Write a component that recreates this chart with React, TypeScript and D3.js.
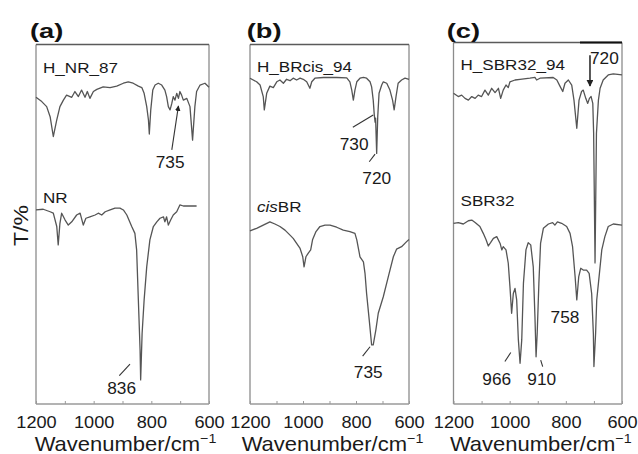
import React, { useEffect, useRef } from 'react';
import * as d3 from 'd3';

type Pt = [number, number];

// [wavenumber cm-1, transmittance %] (curves stacked, arbitrary offsets)
const hNR87: Pt[] = [
  [1200, 85.2], [1180, 84.0], [1163, 82.6], [1151, 79.8], [1140, 74.3], [1128, 78.9], [1117, 82.6],
  [1105, 84.4], [1094, 85.8], [1076, 85.2], [1065, 86.8], [1053, 85.4], [1042, 87.2], [1030, 85.2],
  [1022, 86.8], [1013, 84.9], [1001, 86.8], [989, 87.4], [967, 88.1], [943, 87.9], [920, 88.3],
  [897, 89.1], [880, 89.5], [863, 89.1], [845, 88.3], [833, 87.9], [825, 86.3], [816, 82.6],
  [810, 78.9], [807, 75.0], [802, 81.7], [795, 87.2], [787, 88.6], [776, 89.1], [764, 88.6],
  [753, 87.2], [747, 85.4], [741, 82.6], [735, 81.7], [729, 83.5], [724, 85.4], [718, 84.4],
  [712, 86.3], [706, 84.9], [701, 86.8], [695, 85.8], [689, 84.4], [677, 84.9], [666, 82.6],
  [657, 73.3], [649, 82.6], [643, 86.8], [631, 88.6], [614, 89.1], [600, 88.0],
];

const nr: Pt[] = [
  [1200, 53.9], [1175, 54.1], [1151, 53.4], [1140, 53.0], [1128, 49.3], [1123, 44.2], [1117, 50.2],
  [1111, 53.0], [1099, 51.1], [1088, 49.7], [1076, 50.6], [1059, 52.5], [1047, 53.0], [1036, 49.7],
  [1027, 51.6], [1013, 52.0], [995, 52.5], [984, 53.0], [972, 52.5], [960, 53.4], [943, 53.9],
  [926, 54.4], [909, 54.4], [897, 53.9], [885, 52.5], [868, 49.3], [857, 47.4], [851, 42.8],
  [845, 28.9], [839, 15.0], [837, 6.7], [832, 19.6], [825, 28.9], [816, 38.1], [805, 45.6],
  [793, 49.3], [781, 50.6], [770, 51.6], [758, 52.0], [753, 50.6], [747, 52.0], [741, 49.7],
  [733, 51.1], [724, 52.5], [712, 53.4], [701, 55.3], [689, 55.0], [677, 55.0], [643, 55.0],
];

const hBRcis94: Pt[] = [
  [1200, 90.5], [1175, 89.5], [1162, 88.6], [1150, 85.4], [1146, 81.7], [1137, 86.3], [1125, 88.3],
  [1112, 87.9], [1099, 89.5], [1087, 90.0], [1074, 89.1], [1062, 90.2], [1049, 89.8], [1037, 90.5],
  [1024, 90.0], [1011, 90.5], [999, 90.2], [986, 89.5], [974, 87.7], [967, 89.5], [955, 90.5],
  [923, 90.7], [873, 90.7], [835, 90.6], [823, 89.5], [816, 87.2], [810, 84.4], [804, 87.2],
  [797, 89.5], [785, 90.5], [772, 90.7], [760, 90.5], [747, 89.5], [741, 88.1], [735, 84.4],
  [731, 80.3], [728, 78.3], [726, 79.4], [722, 69.6], [718, 79.8], [713, 86.3], [703, 88.6],
  [697, 89.5], [684, 89.1], [672, 87.2], [662, 84.4], [656, 81.7], [649, 85.4], [641, 89.1],
  [628, 90.0], [615, 90.5], [600, 90.2],
];

const cisBR: Pt[] = [
  [1200, 48.1], [1175, 48.8], [1150, 49.7], [1125, 50.6], [1106, 50.0], [1087, 49.3], [1068, 48.3],
  [1049, 46.9], [1037, 46.0], [1024, 44.6], [1011, 43.2], [1001, 40.9], [996, 38.1], [989, 40.9],
  [980, 41.9], [971, 42.8], [964, 45.6], [951, 47.9], [936, 49.3], [917, 49.7], [898, 49.7],
  [873, 49.1], [848, 48.3], [823, 47.9], [804, 47.4], [797, 45.6], [785, 40.9], [772, 39.5],
  [766, 36.3], [760, 30.7], [750, 23.3], [741, 16.4], [735, 16.4], [725, 20.6], [716, 25.2],
  [697, 29.8], [678, 35.4], [659, 40.9], [647, 43.0], [628, 43.7], [609, 45.1], [600, 45.7],
];

const hSBR3294: Pt[] = [
  [1200, 86.3], [1183, 85.4], [1171, 85.8], [1159, 84.9], [1147, 84.4], [1135, 85.4], [1123, 84.9],
  [1112, 85.8], [1100, 85.4], [1088, 87.2], [1076, 85.8], [1064, 87.7], [1052, 86.5], [1040, 87.7],
  [1032, 84.9], [1023, 87.2], [1013, 88.6], [1005, 87.9], [999, 89.5], [981, 90.0], [963, 90.2],
  [928, 90.5], [910, 90.7], [904, 90.0], [892, 90.5], [845, 90.7], [832, 90.0], [821, 88.3],
  [811, 86.8], [803, 89.1], [791, 90.0], [779, 88.6], [771, 84.4], [761, 76.6], [753, 84.4],
  [744, 86.8], [738, 87.2], [729, 84.9], [722, 83.5], [716, 84.9], [710, 85.4], [704, 83.5],
  [701, 75.2], [696, 39.2], [691, 75.2], [684, 84.4], [678, 87.7], [667, 90.0], [649, 91.4],
  [631, 91.7], [600, 91.4],
];

const sbr32: Pt[] = [
  [1200, 50.2], [1183, 50.4], [1165, 50.0], [1147, 50.9], [1135, 51.1], [1123, 50.4], [1106, 49.3],
  [1094, 47.4], [1084, 45.6], [1076, 43.9], [1068, 44.8], [1058, 46.0], [1046, 46.5], [1034, 44.6],
  [1028, 42.8], [1023, 43.7], [1013, 42.8], [1005, 39.1], [999, 32.6], [993, 25.2], [987, 30.7],
  [981, 32.1], [975, 28.9], [969, 17.8], [963, 11.3], [957, 17.8], [951, 33.5], [942, 42.8],
  [934, 44.8], [925, 44.2], [916, 38.1], [910, 24.3], [906, 13.1], [902, 19.6], [896, 33.5],
  [890, 44.6], [880, 48.8], [862, 50.0], [847, 50.4], [839, 49.7], [830, 50.6], [815, 50.2],
  [797, 49.3], [785, 47.4], [776, 43.7], [767, 35.4], [761, 28.9], [754, 35.4], [747, 37.7],
  [738, 37.2], [726, 37.2], [717, 36.3], [708, 30.7], [702, 19.6], [700, 10.4], [694, 19.6],
  [690, 28.9], [684, 33.5], [672, 42.8], [661, 46.5], [649, 49.3], [631, 50.0], [600, 49.7],
];

const xTicks = [1200, 1100, 1000, 900, 800, 700, 600];
const xTickLabels = [1200, 1000, 800, 600];

// peak annotations: label position and optional pointer, in data units
type Note = { text: string; x: number; y: number; line?: [number, number, number, number]; head?: boolean };
const notesA: Note[] = [
  { text: '735', x: 735, y: 65.6, line: [729, 70.6, 706, 82.8], head: true },
  { text: '836', x: 903, y: 2.8, line: [911, 7.9, 874, 11.1] },
];
const notesB: Note[] = [
  { text: '730', x: 807, y: 70.6, line: [812, 76.9, 735, 80.3] },
  { text: '720', x: 722, y: 61.1, line: [750, 67.3, 728, 69.4] },
  { text: '735', x: 754, y: 7.3, line: [775, 13.3, 747, 15.9] },
];
const notesC: Note[] = [
  { text: '966', x: 1046, y: 5.3, line: [1017, 11.8, 996, 14.3] },
  { text: '910', x: 886, y: 5.3, line: [889.5, 12.2, 882.4, 10.4] },
  { text: '758', x: 803, y: 22.5 },
];

const panels = [
  { tag: '(a)', tagX: 30, left: 36, right: 209, top: 44.5, upper: hNR87, lower: nr,
    upperName: [['H_NR_87', false]], lowerName: [['NR', false]], upperY: 72.5, lowerY: 203, notes: notesA },
  { tag: '(b)', tagX: 246.7, left: 250, right: 409, top: 44.5, upper: hBRcis94, lower: cisBR,
    upperName: [['H_BRcis_94', false]], lowerName: [['cis', true], ['BR', false]], upperY: 71.7, lowerY: 212, notes: notesB },
  { tag: '(c)', tagX: 446.7, left: 453.5, right: 622, top: 42.5, upper: hSBR3294, lower: sbr32,
    upperName: [['H_SBR32_94', false]], lowerName: [['SBR32', false]], upperY: 69.5, lowerY: 205.7, notes: notesC },
];

const FONT = 'Liberation Sans, Arial, Helvetica, sans-serif';
const W = 638, H = 454, BOTTOM = 404;

export default function App() {
  const svgRef = useRef<SVGSVGElement>(null);

  useEffect(() => {
    const svg = d3.select(svgRef.current);
    svg.selectAll('*').remove();
    svg.append('rect').attr('width', W).attr('height', H).attr('fill', '#fff');

    svg.append('defs').append('marker')
      .attr('id', 'head').attr('viewBox', '0 0 10 10').attr('refX', 9).attr('refY', 5)
      .attr('markerWidth', 5).attr('markerHeight', 5).attr('orient', 'auto')
      .append('path').attr('d', 'M0,0 L10,5 L0,10 Z').attr('fill', '#222');

    const y = d3.scaleLinear().domain([0, 100]).range([BOTTOM, 44]);

    panels.forEach((p, i) => {
      const x = d3.scaleLinear().domain([1200, 600]).range([p.left, p.right]);
      const g = svg.append('g');

      // frame
      g.append('line').attr('x1', p.left).attr('x2', p.left).attr('y1', p.top).attr('y2', BOTTOM)
        .attr('stroke', '#8c8c8c').attr('stroke-width', 1.3);
      g.append('line').attr('x1', p.right).attr('x2', p.right).attr('y1', p.top).attr('y2', BOTTOM)
        .attr('stroke', '#8c8c8c').attr('stroke-width', 1.3);
      g.append('line').attr('x1', p.left).attr('x2', p.right).attr('y1', p.top).attr('y2', p.top)
        .attr('stroke', '#5a5a5a').attr('stroke-width', 1.3);
      g.append('line').attr('x1', p.left).attr('x2', p.right).attr('y1', BOTTOM).attr('y2', BOTTOM)
        .attr('stroke', '#9a9a9a').attr('stroke-width', 1.3);
      if (i === 2) {
        g.append('line').attr('x1', 580).attr('x2', p.right).attr('y1', p.top).attr('y2', p.top)
          .attr('stroke', '#111').attr('stroke-width', 2.2);
      }

      // axis
      const axis = d3.axisBottom(x)
        .tickValues(xTicks)
        .tickSizeInner(-3)
        .tickSizeOuter(0)
        .tickPadding(12.6)
        .tickFormat((d) => (xTickLabels.includes(+d) ? String(d) : ''));
      const ax = g.append('g').attr('transform', `translate(0,${BOTTOM})`).call(axis);
      ax.select('.domain').remove();
      ax.selectAll('.tick line').attr('stroke', '#999');
      ax.selectAll('.tick text')
        .attr('font-family', FONT).attr('font-size', 16.5).attr('fill', '#1a1a1a')
        .attr('transform', 'scale(1.1,1)');

      const title = g.append('text')
        .attr('transform', `translate(${(p.left + p.right) / 2 + 3},451) scale(1.1,1)`)
        .attr('text-anchor', 'middle').attr('font-family', FONT).attr('font-size', 20).attr('fill', '#1a1a1a');
      title.append('tspan').text('Wavenumber/cm');
      title.append('tspan').attr('dy', -8).attr('font-size', 13).text('\u22121');

      // spectra
      const line = d3.line<Pt>().x((d) => x(d[0])).y((d) => y(d[1]));
      [p.upper, p.lower].forEach((data) => {
        g.append('path').datum(data).attr('d', line)
          .attr('fill', 'none').attr('stroke', '#555').attr('stroke-width', 1.3)
          .attr('stroke-linejoin', 'round');
      });

      // panel tag
      g.append('text').text(p.tag)
        .attr('transform', `translate(${p.tagX},38) scale(1.3,1)`)
        .attr('font-family', FONT).attr('font-weight', 'bold').attr('font-size', 21).attr('fill', '#111');

      // sample names
      [[p.upperName, p.upperY], [p.lowerName, p.lowerY]].forEach(([parts, ty]: any) => {
        const t = g.append('text')
          .attr('transform', `translate(${p.left + 7},${ty}) scale(1.22,1)`)
          .attr('font-family', FONT).attr('font-size', 14).attr('fill', '#1a1a1a');
        parts.forEach(([s, it]: [string, boolean]) => {
          t.append('tspan').text(s).attr('font-style', it ? 'italic' : 'normal');
        });
      });

      // peak notes
      p.notes.forEach((n) => {
        if (n.line) {
          const l = g.append('line')
            .attr('x1', x(n.line[0])).attr('y1', y(n.line[1]))
            .attr('x2', x(n.line[2])).attr('y2', y(n.line[3]))
            .attr('stroke', '#333').attr('stroke-width', 1.1);
          if (n.head) l.attr('marker-end', 'url(#head)');
        }
        g.append('text').text(n.text)
          .attr('transform', `translate(${x(n.x)},${y(n.y)}) scale(1.08,1)`)
          .attr('text-anchor', 'middle')
          .attr('font-family', FONT).attr('font-size', 16).attr('fill', '#1a1a1a');
      });

      if (i === 2) {
        // 720 marker above the H_SBR32_94 trace
        g.append('line')
          .attr('x1', x(714)).attr('x2', x(714)).attr('y1', y(96.9)).attr('y2', y(88.3))
          .attr('stroke', '#111').attr('stroke-width', 1.4).attr('marker-end', 'url(#head)');
        g.append('text').text('720')
          .attr('transform', `translate(${x(714)},${y(94.4)}) scale(1.08,1)`)
          .attr('font-family', FONT).attr('font-size', 16).attr('fill', '#1a1a1a');
      }
    });

    svg.append('text').text('T/%')
      .attr('transform', 'translate(28,225.5) rotate(-90) scale(1.15,1)')
      .attr('text-anchor', 'middle')
      .attr('font-family', FONT).attr('font-size', 20).attr('fill', '#1a1a1a');
  }, []);

  return (
    <div style={{ position: 'absolute', left: 0, top: 0 }}>
      <svg ref={svgRef} width={W} height={H} style={{ display: 'block' }} />
    </div>
  );
}
